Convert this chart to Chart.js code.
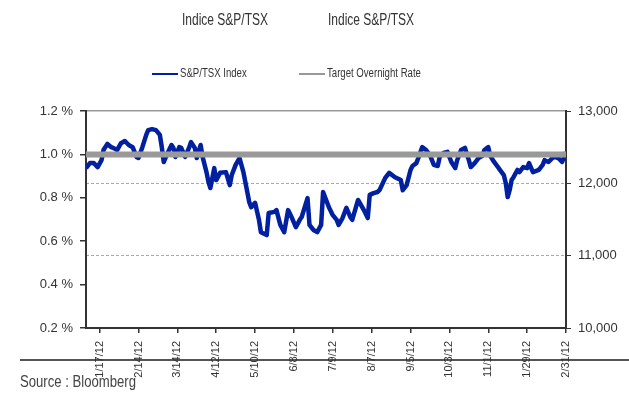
<!DOCTYPE html>
<html>
<head>
<meta charset="utf-8">
<script src="https://cdn.jsdelivr.net/npm/chart.js@4"></script>
<style>
  body { margin: 0; background: #fff; }
  #wrap { position: relative; width: 629px; height: 406px; overflow: hidden; color: #333;
          font-family: 'Liberation Sans', Arial, sans-serif; }
  #chart { position: absolute; left: 0; top: 0; }
  .title { position: absolute; top: 11px; font-size: 16px; white-space: nowrap;
           transform: scaleX(0.75); transform-origin: left top; }
  .leg { position: absolute; top: 66px; font-size: 12px; white-space: nowrap; }
  .leg i { position: absolute; top: 7px; width: 26px; height: 2px; }
  .leg span { position: absolute; left: 28px; top: 0; transform: scaleX(0.8); transform-origin: left top; }
  #rule { position: absolute; left: 20px; right: 0; top: 359px; height: 2px; background: #555; }
  #source { position: absolute; left: 20px; top: 373px; font-size: 16px; color: #444; white-space: nowrap;
            transform: scaleX(0.82); transform-origin: left top; }
</style>
</head>
<body>
<div id="wrap">
  <div id="rule"></div>
  <canvas id="chart" width="629" height="406"></canvas>
  <div class="title" style="left:182px">Indice S&amp;P/TSX</div>
  <div class="title" style="left:328px">Indice S&amp;P/TSX</div>
  <div class="leg" style="left:152px"><i style="background:#0020A0"></i><span>S&amp;P/TSX Index</span></div>
  <div class="leg" style="left:299px"><i style="background:#999"></i><span>Target Overnight Rate</span></div>
  <div id="source">Source : Bloomberg</div>
</div>
<script>
// trading-day position of each reading, and the S&P/TSX level (right axis)
const indexDays = [0, 2, 4, 6, 8, 9, 11, 13, 14, 16, 18, 20, 22, 24, 26, 27, 29, 31, 32, 34,
  36, 38, 39, 40, 42, 44, 45, 46, 48, 49, 51, 53, 54, 56, 57, 59, 60, 62, 63, 64,
  66, 67, 69, 72, 74, 75, 77, 79, 81, 83, 84, 85, 87, 89, 90, 93, 94, 97, 98, 100,
  102, 104, 106, 108, 110, 111, 114, 115, 117, 119, 121, 122,
  125, 127, 129, 130, 132, 134, 136, 137, 140, 143, 145, 146, 148, 150, 151, 154, 156, 159, 162, 163,
  165, 167, 168, 170, 171, 173, 175, 177, 179, 181, 182, 184, 186, 188, 190, 191, 193, 195, 197, 198,
  200, 202, 204, 205, 207, 208, 210, 212, 213, 215, 216, 217, 218, 219, 220, 222, 223, 225, 227, 228,
  230, 233, 235, 236, 238, 240, 241, 243, 245, 247];
const indexValues = [12210, 12280, 12280, 12225, 12320, 12460, 12545, 12500, 12490, 12460,
  12555, 12585, 12530, 12500, 12365, 12350, 12500, 12670, 12735, 12750,
  12735, 12670, 12500, 12295, 12420, 12530, 12490, 12365, 12500, 12490,
  12365, 12490, 12570, 12490, 12350, 12530, 12365, 12155, 12020, 11935,
  12210, 12045, 12145, 12155, 11975, 12115, 12255, 12350, 12155, 11880,
  11740, 11670, 11730, 11495, 11325, 11285, 11590, 11605, 11630, 11425,
  11325, 11630, 11520, 11395, 11495, 11535, 11795, 11425, 11355, 11325,
  11425, 11880,
  11670, 11560, 11495, 11425, 11520, 11660, 11535, 11495, 11770, 11630,
  11520, 11840, 11865, 11880, 11905, 12075, 12145, 12085, 12045, 11905,
  11975, 12185, 12240, 12280, 12350, 12500, 12460, 12390, 12255, 12240,
  12365, 12420, 12435, 12295, 12210, 12320, 12460, 12490, 12320, 12225,
  12280, 12350, 12380, 12460, 12500, 12380, 12295, 12225, 12185, 12115,
  12005, 11810, 11905, 12045, 12085, 12185, 12155, 12225, 12210, 12280,
  12155, 12185, 12255, 12320, 12295, 12350, 12365, 12350, 12295, 12430];

// Bank of Canada target overnight rate (left axis), flat over the year
const rateDays = [0, 247];
const rateValues = [1.0, 1.0];

const tickDays = [7, 27, 47, 67, 87, 107, 127, 147, 167, 187, 207, 227, 247];
const tickLabels = ['1/17/12', '2/14/12', '3/14/12', '4/12/12', '5/10/12', '6/8/12', '7/9/12',
  '8/7/12', '9/5/12', '10/3/12', '11/1/12', '1/29/12', '2/31/12'];

const ink = '#333';
const tickFont = { family: "'Liberation Sans', Arial, sans-serif", size: 13 };

new Chart(document.getElementById('chart'), {
  type: 'line',
  data: {
    datasets: [{
      label: 'Target Overnight Rate',
      data: rateDays.map((d, i) => ({ x: d, y: rateValues[i] })),
      yAxisID: 'yRate',
      borderColor: '#999',
      borderWidth: 6,
      pointRadius: 0,
      order: 0
    }, {
      label: 'S&P/TSX Index',
      data: indexDays.map((d, i) => ({ x: d, y: indexValues[i] })),
      yAxisID: 'yIndex',
      borderColor: '#0020A0',
      borderWidth: 4.5,
      borderJoinStyle: 'round',
      pointRadius: 0,
      order: 1
    }]
  },
  options: {
    responsive: false,
    animation: false,
    devicePixelRatio: 1,
    layout: { padding: { top: 111, left: 0, right: 0, bottom: 0 } },
    plugins: { legend: { display: false }, tooltip: { enabled: false } },
    scales: {
      x: {
        type: 'linear',
        min: 0,
        max: 247,
        afterBuildTicks: (axis) => { axis.ticks = tickDays.map((v) => ({ value: v })); },
        afterFit: (s) => { s.height = 78; },
        ticks: {
          minRotation: 90,
          maxRotation: 90,
          autoSkip: false,
          padding: 8,
          color: ink,
          font: { family: "'Liberation Sans', Arial, sans-serif", size: 11 },
          callback: (v) => tickLabels[tickDays.indexOf(v)]
        },
        grid: { drawOnChartArea: false, tickLength: 5, tickColor: ink, lineWidth: 1.5 },
        border: { color: ink, width: 2 }
      },
      yRate: {
        position: 'left',
        min: 0.2,
        max: 1.2,
        afterFit: (s) => { s.width = 86; },
        ticks: { stepSize: 0.2, padding: 7, color: ink, font: tickFont,
                 callback: (v) => v.toFixed(1) + ' %' },
        grid: {
          color: (c) => (c.tick && Math.abs(c.tick.value - 1.2) < 1e-6 ? '#999' : 'rgba(0,0,0,0)'),
          tickColor: ink,
          tickLength: 6,
          lineWidth: 1.5
        },
        border: { color: ink, width: 2 }
      },
      yIndex: {
        position: 'right',
        min: 10000,
        max: 13000,
        afterFit: (s) => { s.width = 63; },
        ticks: { stepSize: 1000, padding: 7, color: ink, font: tickFont,
                 callback: (v) => v.toLocaleString('en-US') },
        grid: {
          color: (c) => (c.tick && (c.tick.value === 11000 || c.tick.value === 12000) ? '#aaa' : 'rgba(0,0,0,0)'),
          tickColor: ink,
          tickLength: 5,
          lineWidth: 1
        },
        border: { color: ink, width: 2, dash: [3, 2] }
      }
    }
  }
});
</script>
</body>
</html>
